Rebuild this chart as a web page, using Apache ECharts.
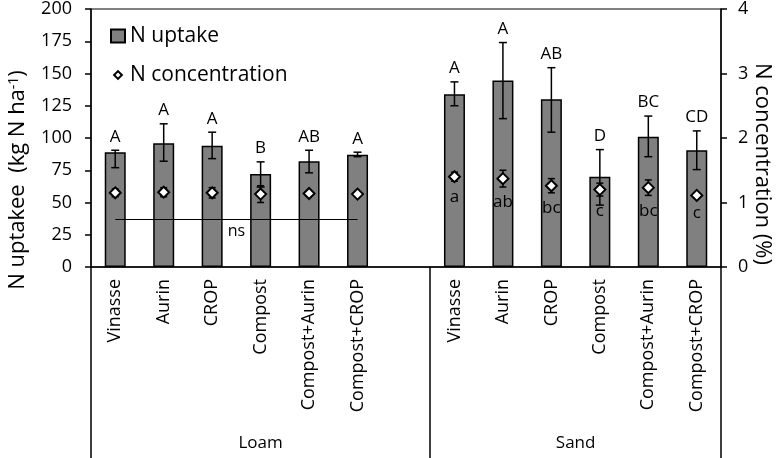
<!DOCTYPE html>
<html>
<head>
<meta charset="utf-8">
<script src="https://cdn.jsdelivr.net/npm/echarts@6/dist/echarts.min.js"></script>
<style>
  html, body { margin: 0; padding: 0; background: #fff; }
  #chart { width: 782px; height: 458px; }
</style>
</head>
<body>
<div id="chart"></div>
<script>
// treatments per soil
const treatments = ['Vinasse', 'Aurin', 'CROP', 'Compost', 'Compost+Aurin', 'Compost+CROP'];
const soils = ['Loam', 'Sand'];

// N uptake (kg N ha-1), bar tops and error bar ends
const uptakeLoam = [89, 96, 94, 72, 82, 87];
const uptakeLoamLow = [77, 82, 84, 62, 73, 85.5];
const uptakeLoamHigh = [90.5, 111, 104.5, 81.5, 90.5, 89];
const uptakeSand = [134, 144.5, 130, 70, 101, 90.5];
const uptakeSandLow = [125, 115, 104.5, 48, 85.5, 75.5];
const uptakeSandHigh = [143.5, 174, 154.5, 91, 117, 105.5];

// N concentration (%), means and error half widths
const concLoam = [1.15, 1.16, 1.15, 1.13, 1.14, 1.13];
const concLoamErr = [0.06, 0.07, 0.08, 0.13, 0.03, 0.02];
const concSand = [1.40, 1.37, 1.26, 1.20, 1.23, 1.11];
const concSandErr = [0.07, 0.13, 0.11, 0.10, 0.12, 0.03];

// significance letters
const lettersUptakeLoam = ['A', 'A', 'A', 'B', 'AB', 'A'];
const lettersUptakeSand = ['A', 'A', 'AB', 'D', 'BC', 'CD'];
const lettersConcSand = ['a', 'ab', 'bc', 'c', 'bc', 'c'];
const nsLevel = 36.8;

const uptakeTicks = [0, 25, 50, 75, 100, 125, 150, 175, 200];
const concTicks = [0, 1, 2, 3, 4];

const FONT = 'Open Sans';

// 13 slots on the axis: 6 loam, one empty, 6 sand
const slots = treatments.concat([''], treatments);
const sandStart = treatments.length + 1;
const idx = (soil, i) => (soil === 0 ? i : sandStart + i);

const uptake = uptakeLoam.concat(['-'], uptakeSand);
const conc = concLoam.concat(['-'], concSand);

const uptakeErrData = [];
const uptakeLetters = [];
const concErrData = [];
const concLetters = [];
const concLetterData = [];
treatments.forEach((t, i) => {
    uptakeErrData.push([idx(0, i), uptakeLoamLow[i], uptakeLoamHigh[i]]);
    uptakeLetters.push(lettersUptakeLoam[i]);
    concErrData.push([idx(0, i), concLoam[i] - concLoamErr[i], concLoam[i] + concLoamErr[i]]);
});
treatments.forEach((t, i) => {
    uptakeErrData.push([idx(1, i), uptakeSandLow[i], uptakeSandHigh[i]]);
    uptakeLetters.push(lettersUptakeSand[i]);
    concErrData.push([idx(1, i), concSand[i] - concSandErr[i], concSand[i] + concSandErr[i]]);
    concLetterData.push([idx(1, i), concSand[i] - concSandErr[i]]);
    concLetters.push(lettersConcSand[i]);
});

function errorBar(capHalf, lw) {
    return function (params, api) {
        const x = api.value(0);
        const lo = api.coord([x, api.value(1)]);
        const hi = api.coord([x, api.value(2)]);
        const style = { stroke: '#000', lineWidth: lw };
        return {
            type: 'group',
            children: [
                { type: 'line', shape: { x1: lo[0], y1: lo[1], x2: hi[0], y2: hi[1] }, style },
                { type: 'line', shape: { x1: lo[0] - capHalf, y1: lo[1], x2: lo[0] + capHalf, y2: lo[1] }, style },
                { type: 'line', shape: { x1: hi[0] - capHalf, y1: hi[1], x2: hi[0] + capHalf, y2: hi[1] }, style }
            ]
        };
    };
}

function letterItem(letters, above) {
    return function (params, api) {
        const p = api.coord([api.value(0), api.value(1)]);
        return {
            type: 'text',
            x: p[0],
            y: above ? p[1] - 5 : p[1] + 7,
            style: {
                text: letters[params.dataIndex],
                fill: '#000',
                font: '17px "' + FONT + '"',
                align: 'center',
                verticalAlign: above ? 'bottom' : 'top'
            }
        };
    };
}

const chart = echarts.init(document.getElementById('chart'));

const option = {
    animation: false,
    textStyle: { fontFamily: FONT, color: '#000' },
    grid: {
        left: 91, right: 61, top: 9, bottom: 191,
        outerBoundsMode: 'none',
        containLabel: false,
        show: true, borderColor: '#000', borderWidth: 1, backgroundColor: 'transparent'
    },
    // axis titles, both sit lower than the axis middle as in the figure
    graphic: [
        {
            type: 'text',
            x: 18,
            y: 180,
            rotation: Math.PI / 2,
            style: {
                text: 'N uptakee  (kg N ha{sup|-1})',
                fontFamily: FONT,
                fontSize: 22,
                fill: '#000',
                align: 'center',
                verticalAlign: 'middle',
                rich: {
                    sup: { fontFamily: FONT, fontSize: 14, verticalAlign: 'top', lineHeight: 16 }
                }
            }
        },
        {
            type: 'text',
            x: 762,
            y: 164,
            rotation: -Math.PI / 2,
            style: {
                text: 'N concentration (%)',
                fontFamily: FONT,
                fontSize: 22,
                fill: '#000',
                align: 'center',
                verticalAlign: 'middle'
            }
        }
    ],
    legend: {
        orient: 'vertical',
        left: 105,
        top: 20,
        itemWidth: 14,
        itemHeight: 13,
        itemGap: 17,
        textStyle: { fontFamily: FONT, fontSize: 21, lineHeight: 22, color: '#000' },
        data: [
            { name: 'N uptake', icon: 'rect' },
            { name: 'N concentration', icon: 'path://M0,0M20,20M10,4L16,10L10,16L4,10Z' }
        ]
    },
    xAxis: [
        {
            type: 'category',
            data: slots.map((s, i) => String(i)),
            boundaryGap: true,
            axisLine: { lineStyle: { color: '#000', width: 1.5 } },
            axisTick: { show: false },
            axisLabel: {
                interval: 0,
                rotate: 90,
                margin: 12,
                fontSize: 18,
                color: '#000',
                formatter: (v, i) => slots[i]
            },
            splitLine: { show: false }
        },
        {
            type: 'value',
            position: 'bottom',
            min: 0,
            max: slots.length,
            axisLine: { show: false },
            splitLine: { show: false },
            axisTick: {
                show: true,
                length: 191,
                customValues: [0, sandStart, slots.length],
                lineStyle: { color: '#000', width: 1.5 }
            },
            axisLabel: {
                customValues: [sandStart / 2, (sandStart + slots.length) / 2],
                margin: 168,
                fontSize: 17,
                color: '#000',
                formatter: v => (v < sandStart ? soils[0] : soils[1])
            }
        }
    ],
    yAxis: [
        {
            type: 'value',
            min: 0,
            max: 200,
            interval: 25,
            axisLine: { show: true, lineStyle: { color: '#000', width: 1.5 } },
            axisTick: { show: true, length: 6, lineStyle: { color: '#000', width: 1.5 } },
            axisLabel: { fontSize: 18, margin: 19, color: '#000', customValues: uptakeTicks },
            splitLine: { show: false }
        },
        {
            type: 'value',
            position: 'right',
            min: 0,
            max: 4,
            interval: 1,
            axisLine: { show: true, lineStyle: { color: '#000', width: 1.5 } },
            axisTick: { show: true, length: 6, lineStyle: { color: '#000', width: 1.5 } },
            axisLabel: { fontSize: 18, margin: 17, color: '#000', customValues: concTicks },
            splitLine: { show: false }
        }
    ],
    series: [
        {
            name: 'N uptake',
            type: 'bar',
            data: uptake,
            barWidth: 21,
            z: 2,
            itemStyle: { color: '#808080', borderColor: '#000', borderWidth: 1.5 },
            markLine: {
                silent: true,
                symbol: 'none',
                lineStyle: { color: '#000', width: 1, type: 'solid' },
                label: {
                    show: true,
                    position: 'insideMiddleBottom',
                    formatter: 'ns',
                    fontSize: 16,
                    color: '#000',
                    distance: 4
                },
                data: [[{ coord: [0, nsLevel] }, { coord: [treatments.length - 1, nsLevel] }]]
            }
        },
        {
            type: 'custom',
            data: uptakeErrData,
            renderItem: errorBar(4, 1.5),
            z: 3,
            silent: true
        },
        {
            type: 'custom',
            data: uptakeErrData.map(d => [d[0], d[2]]),
            renderItem: letterItem(uptakeLetters, true),
            z: 3,
            silent: true
        },
        {
            type: 'custom',
            yAxisIndex: 1,
            data: concErrData,
            renderItem: errorBar(3.5, 1.5),
            z: 4,
            silent: true
        },
        {
            name: 'N concentration',
            type: 'scatter',
            yAxisIndex: 1,
            data: conc,
            symbol: 'diamond',
            symbolSize: 11,
            z: 5,
            itemStyle: { color: '#fff', borderColor: '#000', borderWidth: 2, opacity: 1 }
        },
        {
            type: 'custom',
            yAxisIndex: 1,
            data: concLetterData,
            renderItem: letterItem(concLetters, false),
            z: 4,
            silent: true
        }
    ]
};

chart.setOption(option);
</script>
</body>
</html>
